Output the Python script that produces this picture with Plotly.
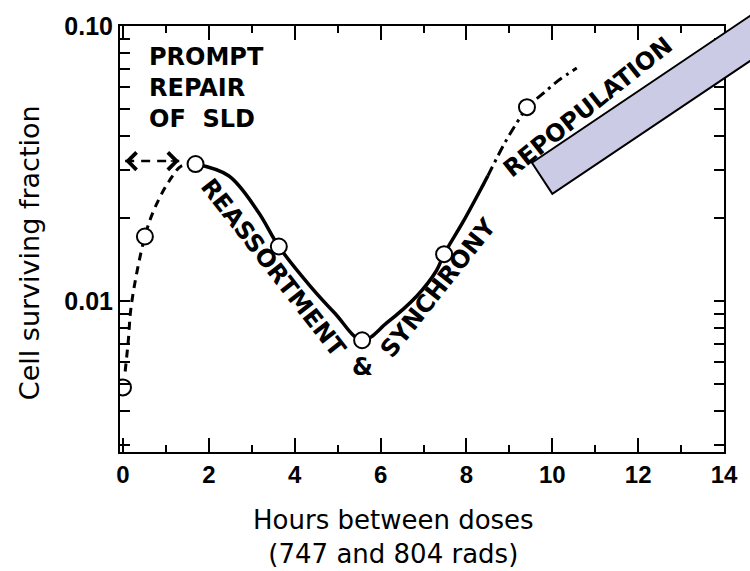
import math
import plotly.graph_objects as go

# ---- data ----
HOURS = [0.0, 0.51, 1.69, 3.63, 5.57, 7.48, 9.41]
SURVIVAL = [0.00486, 0.01718, 0.0315, 0.0158, 0.00721, 0.01482, 0.0507]

SLD_X = [0.05, 0.12, 0.20, 0.51, 0.74, 1.08, 1.36, 1.69]
SLD_Y = [0.00555, 0.0071, 0.00984, 0.01718, 0.0218, 0.0274, 0.0310, 0.0315]

REASSORT_X = [1.69, 2.46, 3.15, 3.63, 4.37, 4.93, 5.57, 6.15, 6.84, 7.30, 7.48, 7.92, 8.38, 8.50]
REASSORT_Y = [0.0315, 0.02855, 0.0211, 0.0158, 0.0113, 0.00906, 0.00721, 0.00835,
              0.01042, 0.0129, 0.01482, 0.0194, 0.0263, 0.02855]

REPOP_X = [8.50, 8.91, 9.26, 9.41, 9.76, 10.13, 10.57]
REPOP_Y = [0.02855, 0.0380, 0.0467, 0.0507, 0.0564, 0.0632, 0.0703]

ARROW_X = [0.05, 1.31]
ARROW_Y = [0.0323, 0.0323]

X_TICKS = [0, 2, 4, 6, 8, 10, 12, 14]
Y_TICKS = [0.003, 0.004, 0.005, 0.006, 0.007, 0.008, 0.009, 0.01,
           0.02, 0.03, 0.04, 0.05, 0.06, 0.07, 0.08, 0.09, 0.1]
Y_TICKTEXT = ["" for _ in Y_TICKS]
Y_TICKTEXT[Y_TICKS.index(0.01)] = "0.01"
Y_TICKTEXT[Y_TICKS.index(0.1)] = "0.10"

BOLD = dict(family="DejaVu Sans", size=24, color="black", weight="bold")

fig = go.Figure()
fig.add_trace(go.Scatter(x=SLD_X, y=SLD_Y, mode="lines",
                         line=dict(color="black", width=3, dash="8px,6px", shape="spline"),
                         hoverinfo="skip"))
fig.add_trace(go.Scatter(x=REASSORT_X, y=REASSORT_Y, mode="lines",
                         line=dict(color="black", width=3.5, shape="spline"),
                         hoverinfo="skip"))
fig.add_trace(go.Scatter(x=REPOP_X, y=REPOP_Y, mode="lines",
                         line=dict(color="black", width=3, dash="10px,5px,3px,5px", shape="spline"),
                         hoverinfo="skip"))
fig.add_trace(go.Scatter(x=ARROW_X, y=ARROW_Y, mode="lines",
                         line=dict(color="black", width=2.5, dash="9px,7px"),
                         hoverinfo="skip"))
fig.add_trace(go.Scatter(x=HOURS, y=SURVIVAL, mode="markers",
                         marker=dict(symbol="circle", size=16, color="white",
                                     line=dict(color="black", width=2))))

# arrow heads of the prompt-repair interval
ylog = math.log10(ARROW_Y[0])
fig.add_annotation(x=ARROW_X[0], y=ylog, xref="x", yref="y", ax=10, ay=0, text="",
                   showarrow=True, arrowhead=4, arrowsize=2.4, arrowwidth=1.4, arrowcolor="black")
fig.add_annotation(x=ARROW_X[1], y=ylog, xref="x", yref="y", ax=-10, ay=0, text="",
                   showarrow=True, arrowhead=4, arrowsize=2.4, arrowwidth=1.4, arrowcolor="black")

# phase labels
fig.add_annotation(x=0.044, y=0.965, xref="paper", yref="paper", xanchor="left", yanchor="top",
                   align="left", showarrow=False, font=BOLD,
                   text="PROMPT<br>REPAIR<br>OF\u00a0\u00a0SLD")
fig.add_annotation(x=0.254, y=0.432, xref="paper", yref="paper", xanchor="center", yanchor="middle",
                   textangle=52, showarrow=False, font=BOLD, text="REASSORTMENT")
fig.add_annotation(x=0.401, y=0.200, xref="paper", yref="paper", xanchor="center", yanchor="middle",
                   showarrow=False, font=BOLD, text="&")
fig.add_annotation(x=0.527, y=0.384, xref="paper", yref="paper", xanchor="center", yanchor="middle",
                   textangle=-51.6, showarrow=False, font=BOLD, text="SYNCHRONY")
fig.add_annotation(x=0.775, y=0.810, xref="paper", yref="paper", xanchor="center", yanchor="middle",
                   textangle=-38.6, showarrow=False, font=BOLD, text="REPOPULATION")

# axis titles
fig.add_annotation(x=0.453, y=-0.12, xref="paper", yref="paper", xanchor="center", yanchor="top",
                   showarrow=False, font=dict(family="DejaVu Sans", size=26, color="black"),
                   text="Hours between doses<br>(747 and 804 rads)")
fig.add_annotation(x=-0.1506, y=0.4667, xref="paper", yref="paper", xanchor="center", yanchor="middle",
                   textangle=-90, showarrow=False,
                   font=dict(family="DejaVu Sans", size=27, color="black"),
                   text="Cell surviving fraction")

# lavender bar overlay
fig.add_shape(type="path", xref="paper", yref="paper", layer="above",
              path="M 0.6820 0.6789 L 0.7158 0.6062 L 1.2084 1.0752 L 1.1730 1.1478 Z",
              fillcolor="#CBCBE5", line=dict(color="black", width=2))

fig.update_xaxes(range=[-0.07, 14], tickvals=X_TICKS, ticks="inside", ticklen=14, tickwidth=2,
                 tickcolor="black", showline=True, linecolor="black", linewidth=2,
                 mirror="allticks", showgrid=False, zeroline=False,
                 tickfont=dict(family="Liberation Sans", size=24, color="black", weight="bold"),
                 minor=dict(dtick=1, tick0=0, ticks="inside", ticklen=7, tickwidth=1.5,
                            tickcolor="black", showgrid=False))
fig.update_yaxes(type="log", range=[math.log10(0.00283), -1], tickvals=Y_TICKS, ticktext=Y_TICKTEXT,
                 ticks="inside", ticklen=10, tickwidth=1.5, tickcolor="black",
                 showline=True, linecolor="black", linewidth=2, mirror="allticks",
                 showgrid=False, zeroline=False,
                 tickfont=dict(family="Liberation Sans", size=25, color="black", weight="bold"))

fig.update_layout(width=750, height=571, margin=dict(l=120, r=19, t=17, b=119),
                  paper_bgcolor="white", plot_bgcolor="white", showlegend=False)

fig.write_html("out.html")
